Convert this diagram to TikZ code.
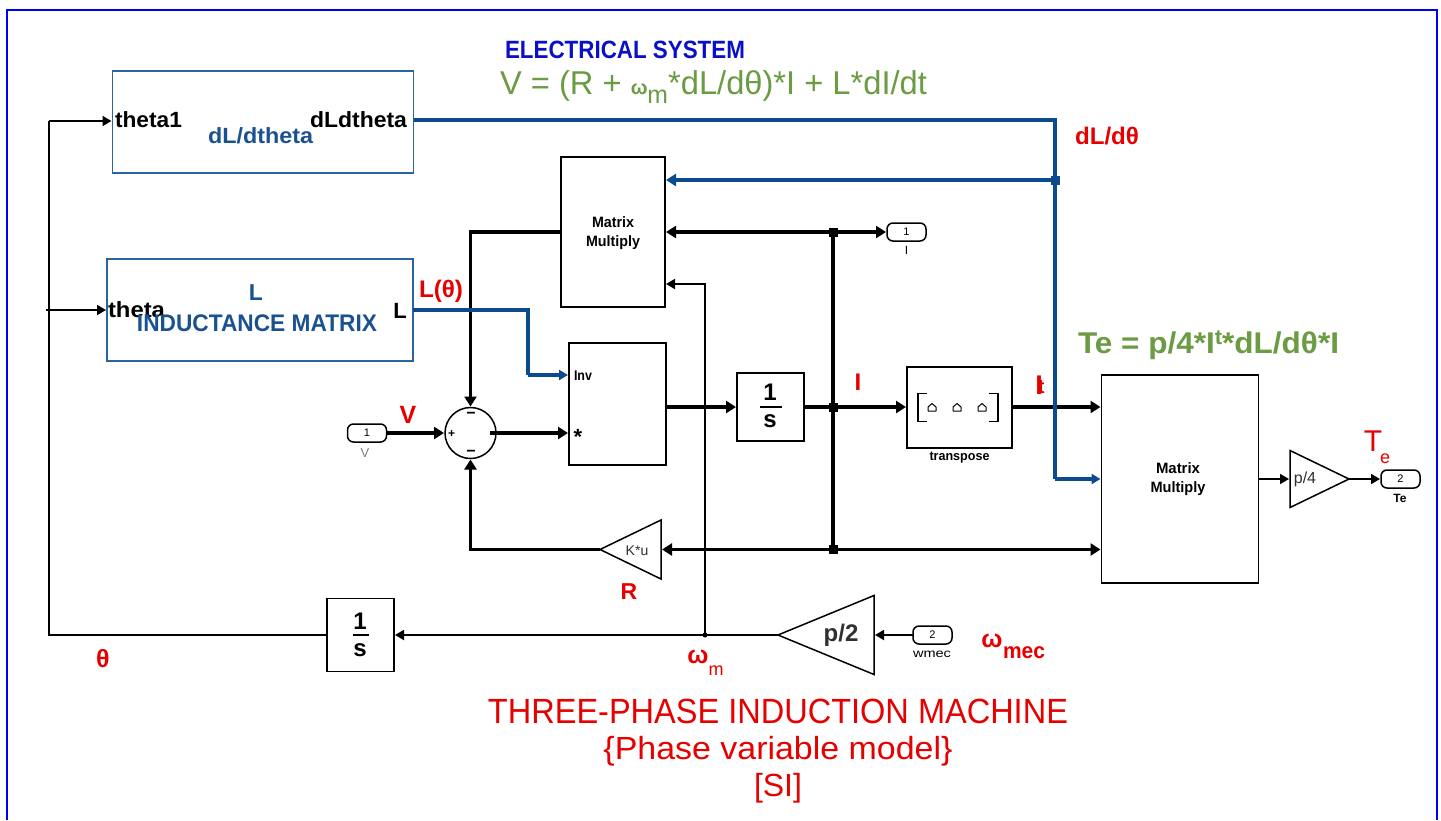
\documentclass[tikz,border=0pt]{standalone}
\usepackage{fontspec}
\usepackage{graphicx}
\setmainfont{Liberation Sans}
\usetikzlibrary{arrows.meta,shapes.geometric,calc}
\definecolor{fr}{HTML}{0000F5}
\definecolor{lnblue}{HTML}{0B4A8C}
\definecolor{blkblue}{HTML}{2C64A0}
\definecolor{txblue}{HTML}{1A5290}
\definecolor{ttblue}{HTML}{0A10C8}
\definecolor{myred}{HTML}{E60000}
\definecolor{mygreen}{HTML}{6B9B42}
\definecolor{mygray}{HTML}{303030}
\newcommand\fw[3]{\resizebox{#2pt}{\height}{\fontsize{#1}{#1}\selectfont #3}}
\newcommand\fs[2]{{\fontsize{#1}{#1}\selectfont #2}}
\tikzset{
  x=1pt,y=-1pt,
  every node/.style={inner sep=0pt,outer sep=0pt},
  blk/.style={draw=black,line width=1.5pt,rectangle},
  bblk/.style={draw=blkblue,line width=1.6pt,rectangle},
  port/.style={draw=black,line width=1.5pt,rectangle,rounded corners=6pt,minimum width=39pt,minimum height=18pt},
  jct/.style={fill=black,rectangle,minimum size=9pt},
  jctb/.style={fill=lnblue,rectangle,minimum size=9pt},
  jcts/.style={fill=black,circle,minimum size=5pt},
  thk/.style={line width=3.2pt},
  thn/.style={line width=1.8pt},
  blu/.style={line width=3.2pt,draw=lnblue},
  tipL/.style={-{Triangle[length=10pt,width=12pt]},shorten >=1pt},
  tipS/.style={-{Triangle[length=9pt,width=10pt]},shorten >=1pt},
  tri/.style={draw=black,line width=1.5pt,isosceles triangle,isosceles triangle stretches,shape border rotate=180,anchor=apex},
  tric/.style={draw=black,line width=1.5pt,isosceles triangle,isosceles triangle stretches,anchor=apex,shape border rotate=0},
  rd/.style={text=myred},
}
\begin{document}
\begin{tikzpicture}
\useasboundingbox (0,0) rectangle (1441,820);
\fill[white] (0,0) rectangle (1441,820);
\draw[fr,line width=2pt] (7,820) -- (7,9.5) -- (1437,9.5) -- (1437,820);

% blocks
\node[bblk,minimum width=301pt,minimum height=102pt] (dl) at (263,122) {};
\node[bblk,minimum width=306pt,minimum height=102pt] (lm) at (260,310) {};
\node[blk,minimum width=104pt,minimum height=150pt] (mmA) at (613,232) {};
\node[blk,minimum width=97pt,minimum height=122pt] (inv) at (617.5,404) {};
\node[blk,minimum width=67pt,minimum height=68pt] (intA) at (770.5,407) {};
\node[blk,minimum width=105pt,minimum height=81pt] (trn) at (959.5,407.5) {};
\node[blk,minimum width=157pt,minimum height=208pt] (mmB) at (1180,479) {};
\node[blk,minimum width=67pt,minimum height=73pt] (intB) at (360.5,635) {};
\node[draw=black,line width=1.5pt,circle,minimum size=51pt] (sum) at (470.5,433) {};
\node[port] (inV) at (367,433) {};
\node[port] (inW) at (932.5,635) {};
\node[port] (outI) at (906.5,232) {};
\node[port] (outT) at (1400.5,479) {};
\node[tri,minimum height=61pt,minimum width=59pt] (gR) at (600,549.5) {};
\node[tri,minimum height=96pt,minimum width=79pt] (gP) at (778,635) {};
\node[tric,minimum height=59pt,minimum width=57pt] (gQ) at (1349,479) {};

% junctions
\node[jct] (jI) at (833,232) {};
\node[jct] (jM) at (833,407) {};
\node[jct] (jB) at (833,549.5) {};
\node[jcts] (jW) at (705,635) {};
\node[jcts,minimum size=3pt] (jT) at (49,310) {};
\coordinate (cA) at (49,635);
\coordinate (cB) at (49,121);
\coordinate (cS) at (46,310);
\coordinate (cL1) at (528,310);
\coordinate (cL2) at (528,375);
\coordinate (cdl) at (1055,120);
\coordinate (cdb) at (1055,479);
\coordinate (cm1) at (470.5,232);
\coordinate (cm2) at (470.5,549.5);
\coordinate (cw) at (705,284);

% black connectors
\draw[thk,tipL] (jI) -- (jI -| mmA.east);
\draw[thk,tipL] (jI) -- (outI.west);
\draw[thk] (jI) -- (jM);
\draw[thk] (jM) -- (jB);
\draw[thk,tipL] (inv.east |- jM) -- (intA.west |- jM);
\draw[thk,tipL] (intA.east |- jM) -- (trn.west |- jM);
\draw[thk,tipL] (trn.east |- jM) -- (mmB.west |- jM);
\draw[thk,tipL] (jB) -- (gR.lower side |- jB);
\draw[thk,tipL] (jB) -- (mmB.west |- jB);
\draw[thk,tipL] (gR.apex) -- (cm2) -- (sum.south);
\draw[thk,tipL] (mmA.west |- jI) -- (cm1) -- (sum.north);
\draw[thk,tipL] (inV.east) -- (sum.west);
\draw[thk,tipL,shorten <=-6pt] (sum.east) -- (inv.west |- sum);
\draw[thn,tipS] (jW) -- (cw) -- (mmA.east |- cw);
\draw[thn,tipS] (inW.west) -- (gP.lower side);
\draw[thn,tipS] (gP.apex) -- (intB.east |- gP.apex);
\draw[thn] (intB.west) -- (cA) -- (cB);
\draw[thn,tipS] (cB) -- (dl.west |- cB);
\draw[thn,tipS] (cS) -- (lm.west);
\draw[thn,tipS] (mmB.east |- gQ.apex) -- (gQ.lower side);
\draw[thn,tipS] (gQ.apex) -- (outT.west);

% blue connectors
\draw[blu] (dl.east |- cdl) -- (cdl) -- (cdb);
\draw[blu,tipS] (cdb) -- (mmB.west |- cdb);
\node[jctb] (jD) at (1055,180) {};
\draw[blu,tipL] (jD) -- (mmA.east |- jD);
\draw[blu] (lm.east) -- (cL1) -- (cL2);
\draw[blu,tipS] (cL2) -- (inv.west |- cL2);

% 1/s bars
\draw[line width=1.6pt] (intA.center) ++(-11,0) -- ++(22,0);
\draw[line width=1.6pt] (intB.center) ++(-8,0) -- ++(16,0);
% transpose glyph
\draw[line width=1.5pt] (927,393.5) -- (918,393.5) -- (918,421.5) -- (927,421.5);
\draw[line width=1.5pt] (989,393.5) -- (998,393.5) -- (998,421.5) -- (989,421.5);
\foreach \cx in {932,957,982} \draw[line width=1pt,line join=round] (\cx-4,411) -- (\cx-4,407) -- (\cx,403.5) -- (\cx+4,407) -- (\cx+4,411) -- cycle;

% sum signs
\node (sT) at (471,415) {\fs{16}{\bfseries −}};
\node (sB) at (471,453) {\fs{16}{\bfseries −}};
\node (sL) at (451.5,433.5) {\fs{12}{\bfseries +}};

% block texts
\node[anchor=west] (t1) at (115,120) {\fw{22}{67}{\bfseries theta1}};
\node[anchor=east] (t2) at (407,120) {\fw{22}{97}{\bfseries dLdtheta}};
\node[text=txblue] (t3) at (260.5,136) {\fw{22}{105}{\bfseries dL/dtheta}};
\node[text=txblue] (t5) at (256,293) {\fs{23}{\bfseries L}};
\node[anchor=west] (t4) at (108,310) {\fw{22}{57}{\bfseries theta}};
\node[text=txblue] (t6) at (257,323.5) {\fw{24}{240}{\bfseries INDUCTANCE MATRIX}};
\node (t7) at (400,311) {\fs{22}{\bfseries L}};
\node (m1) at (613,222) {\fw{15}{42}{\bfseries Matrix}};
\node (m2) at (613,243) {\fw{15}{54}{\bfseries Multiply}};
\node (m3) at (1178,468) {\fw{15}{44}{\bfseries Matrix}};
\node (m4) at (1178,489) {\fw{15}{55}{\bfseries Multiply}};
\node[anchor=west] (in1) at (574,375.5) {\fw{14}{18}{\bfseries Inv}};
\node (in2) at (578,437) {\fs{22}{\bfseries *}};
\node (a1) at (770,392) {\fs{24}{\bfseries 1}};
\node (a2) at (770,421) {\fs{24}{\bfseries s}};
\node (b1) at (360,621) {\fs{24}{\bfseries 1}};
\node (b2) at (360,650) {\fs{24}{\bfseries s}};
\node (tr) at (959.5,458) {\fw{13}{60}{\bfseries transpose}};
\node[text=mygray] (kk) at (637,551) {\fs{14}{K*u}};
\node[text=mygray] (p2) at (841,635) {\fs{24}{\bfseries p/2}};
\node[text=mygray] (p4) at (1305,479) {\fs{16}{p/4}};
% ports
\node (v1) at (367,433) {\fs{11}{1}};
\node[text=gray] (v2) at (365,453) {\fs{13}{V}};
\node (w1) at (932.5,635) {\fs{11}{2}};
\node (w2) at (932,654) {\fw{12}{38}{wmec}};
\node (i1) at (906.5,232) {\fs{11}{1}};
\node (i2) at (906.5,250) {\fs{12}{I}};
\node (x1) at (1400.5,479) {\fs{11}{2}};
\node (x2) at (1400,498) {\fs{12}{\bfseries Te}};

% red labels
\node[rd] (r1) at (408,415) {\fs{25}{\bfseries V}};
\node[rd,anchor=west] (r2) at (419,291) {\fw{24}{44}{\bfseries L(θ)}};
\node[rd] (r3) at (858,382) {\fs{24}{\bfseries I}};
\node[rd] (r4) at (1040,385) {\fs{27}{\bfseries I\kern-5pt\raisebox{1pt}{\fs{20}{t}}}};
\node[rd,anchor=west] (r5) at (1075,136) {\fw{24}{64}{\bfseries dL/dθ}};
\node[rd] (r6) at (1373,441) {\fs{30}{T}};
\node[rd] (r7) at (1385,459) {\fs{18}{e}};
\node[rd] (r8) at (629,592) {\fs{23}{\bfseries R}};
\node[rd] (r9) at (103,659) {\fs{25}{\bfseries θ}};
\node[rd] (r10) at (698,657) {\fs{25}{\bfseries ω}};
\node[rd] (r11) at (716,671) {\fs{18}{m}};
\node[rd] (r12) at (992,641) {\fs{25}{\bfseries ω}};
\node[rd] (r13) at (1024,653) {\fw{22}{42}{\bfseries mec}};

% titles
\node[text=ttblue,anchor=west] (h1) at (505,49.5) {\fw{25}{240}{\bfseries ELECTRICAL SYSTEM}};
\node[text=mygreen,anchor=west] (h2) at (500,87) {\fw{33}{427}{V = (R + \fs{20}{\bfseries ω}\raisebox{-9pt}{\fs{25}{m}}*dL/dθ)*I + L*dI/dt}};
\node[text=mygreen,anchor=west] (h3) at (1078,345) {\fw{30}{261}{\bfseries Te = p/4*I\raisebox{9pt}{\fs{21}{t}}*dL/dθ*I}};
\node[rd] (h4) at (778,711) {\fw{35}{580}{THREE-PHASE INDUCTION MACHINE}};
\node[rd] (h5) at (778,751) {\fw{32}{349}{\{Phase variable model\}}};
\node[rd] (h6) at (778,788) {\fs{32}{[SI]}};
\end{tikzpicture}
\end{document}
